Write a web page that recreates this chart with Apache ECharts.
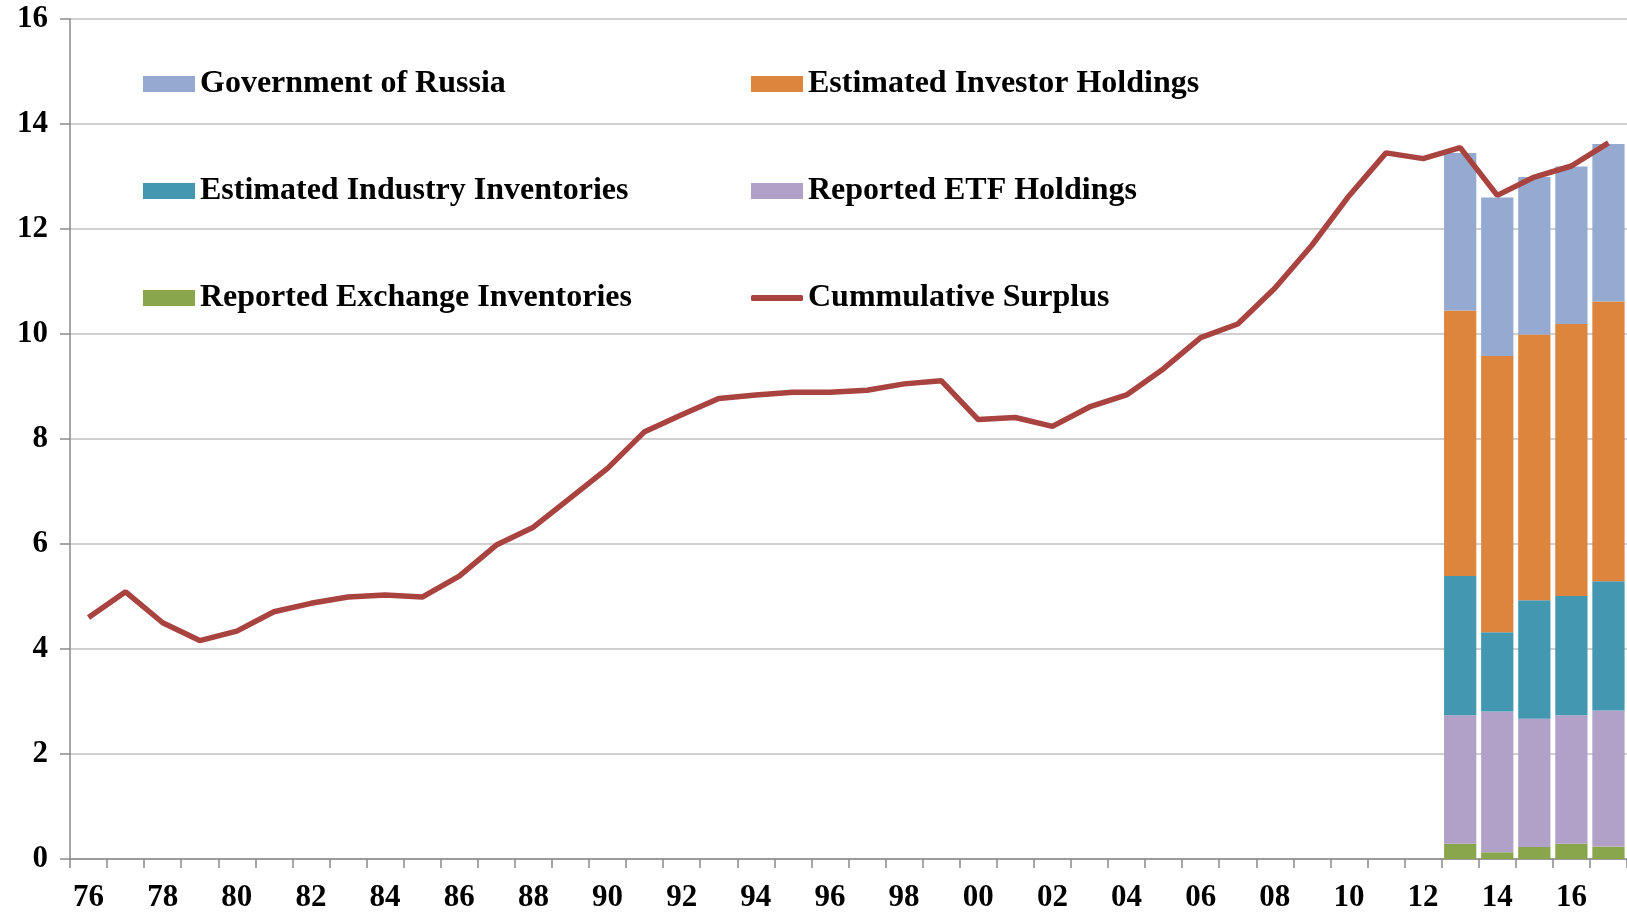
<!DOCTYPE html>
<html>
<head>
<meta charset="utf-8">
<title>Cummulative Surplus</title>
<script src="https://cdn.jsdelivr.net/npm/echarts@6/dist/echarts.min.js"></script>
<style>
    html, body { margin: 0; padding: 0; background: #fff; }
    #chart { width: 1627px; height: 913px; }
</style>
</head>
<body>
<div id="chart"></div>
<script>
var years = ['76', '77', '78', '79', '80', '81', '82', '83', '84', '85',
    '86', '87', '88', '89', '90', '91', '92', '93', '94', '95',
    '96', '97', '98', '99', '00', '01', '02', '03', '04', '05',
    '06', '07', '08', '09', '10', '11', '12', '13', '14', '15',
    '16', '17'];

// cummulative surplus, one value per year
var surplus = [4.60, 5.09, 4.50, 4.16, 4.34, 4.71, 4.87, 4.99, 5.03, 4.99,
    5.39, 5.98, 6.32, 6.88, 7.44, 8.14, 8.46, 8.77, 8.84, 8.89,
    8.89, 8.93, 9.05, 9.11, 8.37, 8.41, 8.24, 8.61, 8.84, 9.34,
    9.93, 10.19, 10.87, 11.69, 12.63, 13.45, 13.34, 13.55, 12.64, 12.99,
    13.20, 13.64];

// stacked holdings, only for the last years
var barYears = ['13', '14', '15', '16', '17'];
var exchange = [0.29, 0.13, 0.23, 0.29, 0.24];
var etf = [2.45, 2.68, 2.44, 2.45, 2.59];
var industry = [2.65, 1.51, 2.26, 2.27, 2.46];
var investor = [5.06, 5.26, 5.06, 5.18, 5.33];
var russia = [3.00, 3.02, 3.00, 3.00, 3.00];

var yTicks = [0, 2, 4, 6, 8, 10, 12, 14, 16];

function fullRow(vals) {
    return years.map(function (y) {
        var k = barYears.indexOf(y);
        return k < 0 ? null : vals[k];
    });
}

var font = 'Liberation Serif';
var gridColor = '#c0c0c0';
var axisColor = '#8a8a8a';
var lineColor = '#a8433f';

function barSeries(name, vals, color) {
    return {
        name: name, type: 'bar', stack: 'held', data: fullRow(vals),
        barCategoryGap: '13%',
        itemStyle: { color: color },
        emphasis: { disabled: true }
    };
}

// legend slots: name, left, top
var legendSlots = [
    ['Government of Russia', 143, 68],
    ['Estimated Investor Holdings', 751, 68],
    ['Estimated Industry Inventories', 143, 175],
    ['Reported ETF Holdings', 751, 175],
    ['Reported Exchange Inventories', 143, 282],
    ['Cummulative Surplus', 751, 282]
];

var legends = legendSlots.map(function (s) {
    var isLine = s[0] === 'Cummulative Surplus';
    return {
        data: [{ name: s[0], icon: isLine ? 'roundRect' : 'rect' }],
        left: s[1], top: s[2], padding: 0,
        itemWidth: 52, itemHeight: isLine ? 6 : 16,
        selectedMode: false,
        textStyle: { fontFamily: font, fontWeight: 'bold', fontSize: 32, color: '#000', lineHeight: 32 }
    };
});

var chart = echarts.init(document.getElementById('chart'));
chart.setOption({
    animation: false,
    backgroundColor: '#fff',
    grid: { left: 70, right: 0, top: 19, bottom: 52 },
    legend: legends,
    xAxis: {
        type: 'category',
        data: years,
        boundaryGap: true,
        axisLine: { lineStyle: { color: axisColor, width: 1.5 } },
        axisTick: { show: true, interval: 0, length: 9, lineStyle: { color: axisColor, width: 1.5 } },
        axisLabel: {
            interval: 1, margin: 23, color: '#000',
            fontFamily: font, fontWeight: 'bold', fontSize: 31
        },
        splitLine: { show: false }
    },
    yAxis: {
        type: 'value',
        min: yTicks[0], max: yTicks[yTicks.length - 1], interval: 2,
        axisLine: { show: true, lineStyle: { color: axisColor, width: 1.5 } },
        axisTick: { show: true, length: 10, lineStyle: { color: axisColor, width: 1.5 } },
        axisLabel: {
            margin: 22, color: '#000',
            fontFamily: font, fontWeight: 'bold', fontSize: 31
        },
        splitLine: { lineStyle: { color: gridColor, width: 1.5 } }
    },
    series: [
        barSeries('Reported Exchange Inventories', exchange, '#8aa64d'),
        barSeries('Reported ETF Holdings', etf, '#b1a1c8'),
        barSeries('Estimated Industry Inventories', industry, '#4397b0'),
        barSeries('Estimated Investor Holdings', investor, '#dd843d'),
        barSeries('Government of Russia', russia, '#95aad1'),
        {
            name: 'Cummulative Surplus', type: 'line', data: surplus,
            symbol: 'none', z: 5,
            lineStyle: { color: lineColor, width: 5.5 },
            itemStyle: { color: lineColor },
            emphasis: { disabled: true }
        }
    ]
});
</script>
</body>
</html>
